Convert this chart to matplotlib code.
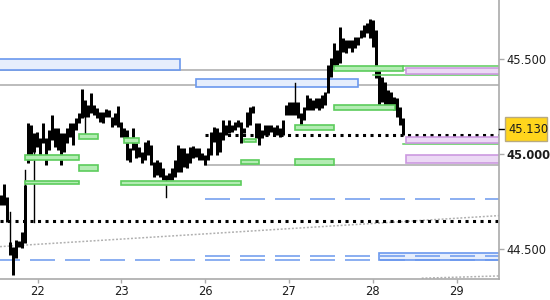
import matplotlib
matplotlib.use('Agg')
import matplotlib.pyplot as plt
from matplotlib.patches import Rectangle
import matplotlib.transforms as mtransforms
import numpy as np

plt.rcParams['lines.scale_dashes'] = False
plt.rcParams['font.family'] = ['DejaVu Sans']

# ---------------- data ----------------
# trading days on an index axis (weekend 24/25 skipped)
day_labels = ['22', '23', '26', '27', '28', '29']
day_index = [0, 1, 2, 3, 4, 5]

bars_per_day = 28
first_bar = -0.43

highs = [44.783, 44.841, 44.773, 44.536, 44.510, 44.547, 44.542, 44.589, 44.836, 45.162,
         45.151, 45.109, 45.114, 45.083, 45.162, 45.083, 45.125, 45.204, 45.135, 45.135,
         45.109, 45.109, 45.135, 45.162, 45.162, 45.188, 45.214, 45.340, 45.283, 45.256,
         45.319, 45.256, 45.240, 45.219, 45.219, 45.235, 45.230, 45.193, 45.214, 45.251,
         45.167, 45.135, 45.125, 45.030, 45.135, 45.057, 45.036, 45.009, 45.062, 45.072,
         45.046, 44.957, 44.967, 44.957, 44.925, 44.888, 44.899, 44.925, 44.967, 45.046,
         45.030, 45.030, 45.004, 45.036, 45.041, 45.030, 45.030, 45.004, 44.993, 45.030,
         45.114, 45.141, 45.135, 45.114, 45.177, 45.151, 45.177, 45.151, 45.167, 45.177,
         45.167, 45.135, 45.219, 45.246, 45.251, 45.162, 45.162, 45.125, 45.151, 45.151,
         45.151, 45.141, 45.151, 45.135, 45.177, 45.256, 45.272, 45.272, 45.272, 45.272,
         45.214, 45.246, 45.309, 45.293, 45.283, 45.293, 45.293, 45.309, 45.325, 45.466,
         45.503, 45.582, 45.545, 45.666, 45.608, 45.598, 45.598, 45.598, 45.614, 45.614,
         45.650, 45.677, 45.687, 45.708, 45.703, 45.650, 45.440, 45.403, 45.377, 45.335,
         45.325, 45.298, 45.293, 45.246, 45.188]

lows = [44.731, 44.731, 44.641, 44.468, 44.363, 44.452, 44.510, 44.505, 44.531, 44.951,
        44.967, 45.009, 45.036, 44.993, 45.057, 44.941, 45.020, 45.072, 45.036, 45.020,
        44.941, 45.009, 45.057, 45.088, 45.046, 45.125, 45.162, 45.188, 45.193, 45.193,
        45.214, 45.204, 45.188, 45.167, 45.162, 45.193, 45.193, 45.141, 45.151, 45.141,
        45.088, 45.083, 44.967, 44.957, 45.020, 44.978, 44.983, 44.951, 44.967, 44.993,
        44.941, 44.878, 44.888, 44.878, 44.862, 44.862, 44.862, 44.862, 44.878, 44.904,
        44.904, 44.930, 44.925, 44.951, 44.978, 44.983, 44.967, 44.967, 44.941, 44.967,
        44.993, 45.062, 44.993, 45.009, 45.072, 45.099, 45.109, 45.114, 45.125, 45.141,
        45.057, 45.109, 45.141, 45.151, 45.214, 45.083, 45.046, 45.083, 45.099, 45.099,
        45.114, 45.099, 45.099, 45.088, 45.099, 45.204, 45.204, 45.204, 45.204, 45.188,
        45.135, 45.177, 45.230, 45.230, 45.230, 45.240, 45.230, 45.240, 45.256, 45.319,
        45.403, 45.456, 45.466, 45.477, 45.535, 45.529, 45.556, 45.535, 45.556, 45.572,
        45.608, 45.614, 45.635, 45.608, 45.561, 45.398, 45.240, 45.272, 45.240, 45.256,
        45.240, 45.230, 45.193, 45.151, 45.099]

# long thin wicks beyond the bodies (bar index -> price)
wick_highs = {3: 44.694, 8: 44.915, 98: 45.372}
wick_lows = {11: 44.641, 28: 45.099, 55: 44.773}

last_price = 45.13
y_ticks = [44.5, 45.0, 45.5]

# zones: (start day, end day, low, high)
green_zones = [(0.495, 0.718, 45.076, 45.102), (1.032, 1.217, 45.055, 45.083),
               (-0.149, 0.501, 44.966, 44.992), (0.495, 0.718, 44.909, 44.939),
               (-0.149, 0.501, 44.840, 44.858), (0.996, 2.432, 44.834, 44.857),
               (2.432, 2.647, 44.945, 44.967), (3.076, 3.542, 44.942, 44.971),
               (2.468, 2.613, 45.063, 45.078), (3.076, 3.542, 45.123, 45.150),
               (3.535, 4.263, 45.228, 45.255), (3.538, 4.356, 45.433, 45.460)]
green_lines = [(4.356, 45.460), (4.000, 45.412), (4.356, 45.050)]
purple_zones = [(4.397, 6.0, 45.419, 45.451), (4.397, 6.0, 45.058, 45.086),
                (4.397, 6.0, 44.951, 44.993)]
blue_zones = [(-0.6, 1.697, 45.442, 45.496), (1.891, 3.821, 45.352, 45.393),
              (4.075, 6.0, 44.440, 44.480)]
gray_levels = [(-0.6, 45.439), (-0.6, 45.360), (2.0, 44.941)]
black_dotted = [(2.0, 45.100), (-0.6, 44.648)]
blue_dashed = [(2.0, 44.761), (-0.6, 44.442), (2.0, 44.461)]
trend_a = ([-0.4475, 5.507], [44.512, 44.675])
trend_b = ([4.585, 5.507], [44.346, 44.358])

# ---------------- figure ----------------
fig = plt.figure(figsize=(5.5, 3.0), dpi=100)
ax = fig.add_axes([0, 21 / 300, 499 / 550, 279 / 300])
xmin, xmax = -0.4475, 5.507
ymin, ymax = 44.3419, 45.808
ax.set_xlim(xmin, xmax)
ax.set_ylim(ymin, ymax)

x_end = 6.0

for x0, y in gray_levels:
    ax.plot([x0, x_end], [y, y], color='#aaaaaa', lw=1.1, zorder=1)

for x0, x1, lo, hi in blue_zones:
    ax.add_patch(Rectangle((x0, lo), x1 - x0, hi - lo, fc='#e6eefc', ec='#6b98ee',
                           lw=1.2, zorder=2))

ax.plot(trend_a[0], trend_a[1], color='#b0b0b0', lw=1.1, ls=(0, (1.4, 1.3)), zorder=2)
ax.plot(trend_b[0], trend_b[1], color='#b0b0b0', lw=1.1, ls=(0, (1.4, 1.3)), zorder=2)

for x0, y in blue_dashed:
    off = 3.6 if x0 < 0 else 0
    ax.plot([max(x0, xmin), x_end], [y, y], color='#6b98ee', lw=1.1,
            ls=(off, (18, 7.2)), zorder=3)

for x0, y in black_dotted:
    ax.plot([max(x0, xmin), x_end], [y, y], color='black', lw=2.2,
            ls=(0, (2.2, 3.2)), zorder=3)

# candles
n = len(highs)
xs = first_bar + np.arange(n) / bars_per_day
h = np.array(highs)
l = np.array(lows)
ax.vlines(xs, l, h, colors='black', lw=2.16, zorder=4, capstyle='butt')
for i, v in wick_highs.items():
    ax.plot([xs[i], xs[i]], [highs[i], v], color='black', lw=1.0, zorder=4)
for i, v in wick_lows.items():
    ax.plot([xs[i], xs[i]], [v, lows[i]], color='black', lw=1.0, zorder=4)

for x0, x1, lo, hi in green_zones:
    ax.add_patch(Rectangle((x0, lo), x1 - x0, hi - lo, fc='#b3ecb3', ec='#5ccc5c',
                           lw=1.2, zorder=5))
for x0, y in green_lines:
    ax.plot([x0, x_end], [y, y], color='#5ccc5c', lw=1.1, zorder=5)
for x0, x1, lo, hi in purple_zones:
    ax.add_patch(Rectangle((x0, lo), x1 - x0, hi - lo, fc='#ecd9f5', ec='#cc99e0',
                           lw=1.2, zorder=5))

# axes styling
for s in ['top', 'left']:
    ax.spines[s].set_visible(False)
for s in ['bottom', 'right']:
    ax.spines[s].set_color('#aaaaaa')
    ax.spines[s].set_linewidth(1.2)
ax.spines['bottom'].set_zorder(6)
ax.spines['right'].set_zorder(6)

ax.set_xticks(day_index)
ax.set_xticklabels(day_labels)
ax.yaxis.tick_right()
ax.set_yticks(y_ticks)
ax.set_yticklabels(['%.3f' % v for v in y_ticks])
ax.tick_params(axis='both', colors='#aaaaaa', labelcolor='#1c1c1c', labelsize=8.3,
               length=3.4, width=1.0, direction='out')
ax.tick_params(axis='x', pad=1.5, length=2.9)
ax.tick_params(axis='y', pad=2.0)
for lab in ax.get_yticklabels():
    if lab.get_text() == '45.000':
        lab.set_fontweight('bold')

# last price marker
trans = mtransforms.blended_transform_factory(ax.transAxes, ax.transData)
ax.plot([1.0, 1.01], [last_price, last_price], transform=trans, color='black',
        lw=1.0, clip_on=False, zorder=7)
ax.add_patch(Rectangle((1.012, last_price - 0.063), 0.084, 0.126, transform=trans,
                       fc='#ffd51c', ec='#b8aa80', lw=1.0, clip_on=False, zorder=7))
ax.text(1.0185, last_price, '%.3f' % last_price, transform=trans, ha='left',
        va='center', fontsize=8.3, color='#1c1c1c', zorder=8, clip_on=False)

fig.savefig('out.png', dpi=100)
